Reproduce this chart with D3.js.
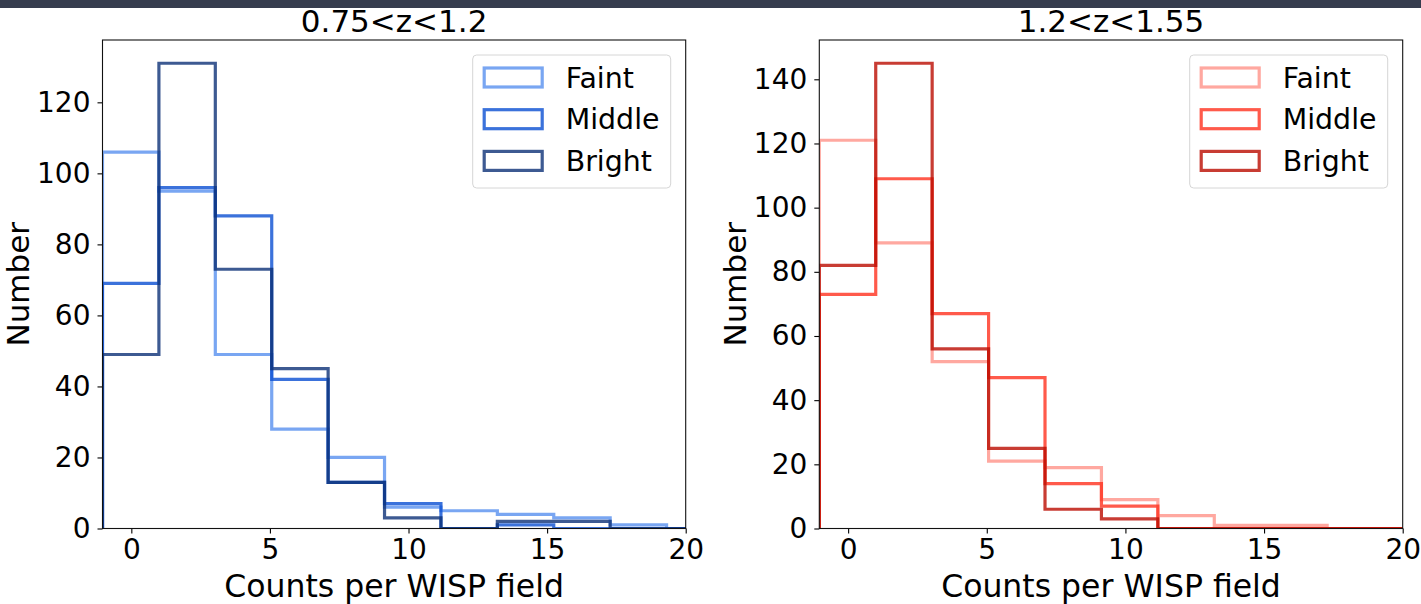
<!DOCTYPE html>
<html>
<head>
<meta charset="utf-8">
<script src="https://cdn.jsdelivr.net/npm/d3@7"></script>
<style>
  html, body { margin: 0; padding: 0; background: #ffffff; }
  svg { display: block; font-family: "DejaVu Sans", sans-serif; }
</style>
</head>
<body>
<svg id="chart" width="1421" height="604"></svg>
<script>
// Histogram binning shared by both redshift slices
const binStart = -1.04;
const binWidth = 2.035;
const xDomain = [-1.04, 20];
const xTicks = [0, 5, 10, 15, 20];

const seriesNames = ["Faint", "Middle", "Bright"];

// 0.75 < z < 1.2
const faintLow  = [106, 95, 49, 28, 20, 6, 5, 4, 3, 1, 0];
const middleLow = [69, 96, 88, 42, 13, 7, 0, 1, 0, 0, 0];
const brightLow = [49, 131, 73, 45, 13, 3, 0, 2, 2, 0, 0];
const yTicksLow = [0, 20, 40, 60, 80, 100, 120];

// 1.2 < z < 1.55
const faintHigh  = [121, 89, 52, 21, 19, 9, 4, 1, 1, 0, 0];
const middleHigh = [73, 109, 67, 47, 14, 7, 0, 0, 0, 0, 0];
const brightHigh = [82, 145, 56, 25, 6, 3, 0, 0, 0, 0, 0];
const yTicksHigh = [0, 20, 40, 60, 80, 100, 120, 140];

const panels = [
  {
    title: "0.75<z<1.2",
    series: [faintLow, middleLow, brightLow],
    colors: ["#5790ef", "#0a4fd2", "#0c3177"],
    yTicks: yTicksLow,
    left: 102.5, right: 685.7, labelX: 29
  },
  {
    title: "1.2<z<1.55",
    series: [faintHigh, middleHigh, brightHigh],
    colors: ["#ff9288", "#ff311e", "#ba0b00"],
    yTicks: yTicksHigh,
    left: 819.3, right: 1402.7, labelX: 746
  }
];

const plotTop = 40, plotBottom = 528.5;
const svg = d3.select("#chart");

// dark header strip
svg.append("rect").attr("x", 0).attr("y", 0).attr("width", 1421).attr("height", 8)
  .attr("fill", "#363d4e");

panels.forEach((p, pi) => {
  const x = d3.scaleLinear().domain(xDomain).range([p.left, p.right]);
  const yMax = d3.max(p.series, s => d3.max(s)) * 1.05;
  const y = d3.scaleLinear().domain([0, yMax]).range([plotBottom, plotTop]);

  const g = svg.append("g");

  const clipId = "clip" + pi;
  svg.append("clipPath").attr("id", clipId)
    .append("rect")
    .attr("x", p.left).attr("y", plotTop)
    .attr("width", p.right - p.left).attr("height", plotBottom - plotTop);

  // step outlines
  const line = d3.line().x(d => x(d[0])).y(d => y(d[1]));
  const plot = g.append("g").attr("clip-path", `url(#${clipId})`);
  p.series.forEach((vals, si) => {
    const pts = [[binStart, 0]];
    vals.forEach((v, k) => {
      pts.push([binStart + k * binWidth, v]);
      pts.push([binStart + (k + 1) * binWidth, v]);
    });
    pts.push([binStart + vals.length * binWidth, 0]);
    plot.append("path")
      .attr("d", line(pts))
      .attr("fill", "none")
      .attr("stroke", p.colors[si])
      .attr("stroke-opacity", 0.8)
      .attr("stroke-width", 3.2)
      .attr("stroke-linejoin", "miter");
  });

  // axes
  const xAxis = d3.axisBottom(x).tickValues(xTicks).tickSize(5).tickPadding(6)
    .tickFormat(d3.format("d"));
  const yAxis = d3.axisLeft(y).tickValues(p.yTicks).tickSize(5).tickPadding(7)
    .tickFormat(d3.format("d"));

  const gx = g.append("g").attr("transform", `translate(0,${plotBottom})`).call(xAxis);
  const gy = g.append("g").attr("transform", `translate(${p.left},0)`).call(yAxis);
  [gx, gy].forEach(a => {
    a.select(".domain").remove();
    a.selectAll(".tick line").attr("stroke", "#000").attr("stroke-width", 1.1);
    a.selectAll(".tick text").attr("fill", "#000").style("font-size", "28px")
      .style("font-family", "'DejaVu Sans', sans-serif");
  });

  // frame
  g.append("rect")
    .attr("x", p.left).attr("y", plotTop)
    .attr("width", p.right - p.left).attr("height", plotBottom - plotTop)
    .attr("fill", "none").attr("stroke", "#111").attr("stroke-width", 1.1);

  // title and axis labels
  const cx = (p.left + p.right) / 2;
  g.append("text").attr("x", cx).attr("y", 32).attr("text-anchor", "middle")
    .style("font-size", "31px").text(p.title);
  g.append("text").attr("x", cx).attr("y", 597).attr("text-anchor", "middle")
    .style("font-size", "31.5px").text("Counts per WISP field");
  g.append("text")
    .attr("transform", `translate(${p.labelX},${(plotTop + plotBottom) / 2}) rotate(-90)`)
    .attr("text-anchor", "middle")
    .style("font-size", "31px").text("Number");

  // legend
  const lx = p.right - 213, ly = 55;
  const leg = g.append("g").attr("transform", `translate(${lx},${ly})`);
  leg.append("rect").attr("x", 0).attr("y", 0).attr("width", 198).attr("height", 133)
    .attr("rx", 4).attr("fill", "#fff").attr("fill-opacity", 0.8)
    .attr("stroke", "#d6d6d6").attr("stroke-width", 1);
  seriesNames.forEach((name, si) => {
    const cy = 22.5 + si * 41.7;
    leg.append("rect")
      .attr("x", 11.5).attr("y", cy - 9.5).attr("width", 58).attr("height", 19)
      .attr("fill", "none").attr("stroke", p.colors[si]).attr("stroke-opacity", 0.8)
      .attr("stroke-width", 3.2);
    leg.append("text").attr("x", 93).attr("y", cy).attr("dy", "0.36em")
      .style("font-size", "28.4px").text(name);
  });
});
</script>
</body>
</html>
